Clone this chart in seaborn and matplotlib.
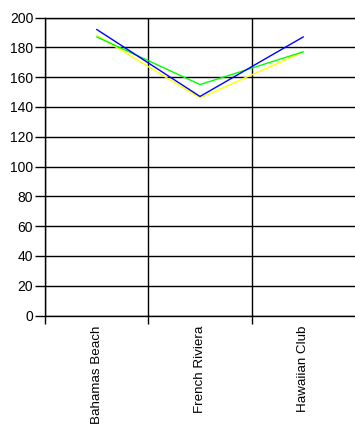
import pandas as pd
import matplotlib
matplotlib.use('Agg')
import matplotlib.pyplot as plt
import seaborn as sns

resorts = ['Bahamas Beach', 'French Riviera', 'Hawaiian Club']
series_blue = [192, 147, 187]
series_yellow = [188, 146, 177]
series_green = [187, 155, 177]

y_ticks = list(range(0, 201, 20))


def main():
    rows = []
    for name, vals in [('Yellow', series_yellow), ('Green', series_green), ('Blue', series_blue)]:
        for r, v in zip(resorts, vals):
            rows.append({'Resort': r, 'Value': v, 'Series': name})
    df = pd.DataFrame(rows)

    sns.set_style('white')
    plt.rcParams['font.family'] = ['Liberation Sans', 'DejaVu Sans']

    fig = plt.figure(figsize=(3.55, 4.32), dpi=100)
    ax = fig.add_axes([45 / 355, 1 - 315.5 / 432, 1 - 45 / 355, 298 / 432])

    sns.lineplot(
        data=df, x='Resort', y='Value', hue='Series',
        palette={'Yellow': '#ffff00', 'Green': '#00ff00', 'Blue': '#0000ff'},
        linewidth=1, legend=False, ax=ax, sort=False,
    )

    ax.set_xlim(-0.5, 2.5)
    ax.set_ylim(0, 200)
    ax.set_yticks(y_ticks)
    ax.set_xticks(range(len(resorts)))
    ax.set_xticklabels(resorts, rotation=90, va='top', ha='center')
    ax.set_xticks([-0.5, 0.5, 1.5], minor=True)

    # horizontal grid on major y ticks, vertical grid on category boundaries
    ax.yaxis.grid(True, color='black', linewidth=1)
    ax.xaxis.grid(True, which='minor', color='black', linewidth=1)
    ax.xaxis.grid(False, which='major')
    ax.set_axisbelow(True)

    ax.tick_params(axis='y', which='major', length=7.5, width=1, color='black',
                   pad=1, labelsize=10, labelcolor='black', left=True)
    ax.tick_params(axis='x', which='major', length=0, pad=7, labelsize=9.6,
                   labelcolor='black')
    ax.tick_params(axis='x', which='minor', length=6, width=1, color='black', bottom=True)

    for side in ['left', 'bottom', 'top']:
        ax.spines[side].set_color('black')
        ax.spines[side].set_linewidth(1)
    ax.spines['right'].set_visible(False)

    ax.set_xlabel('')
    ax.set_ylabel('')

    fig.savefig('out.png', dpi=100)
    plt.close(fig)


if __name__ == '__main__':
    main()
